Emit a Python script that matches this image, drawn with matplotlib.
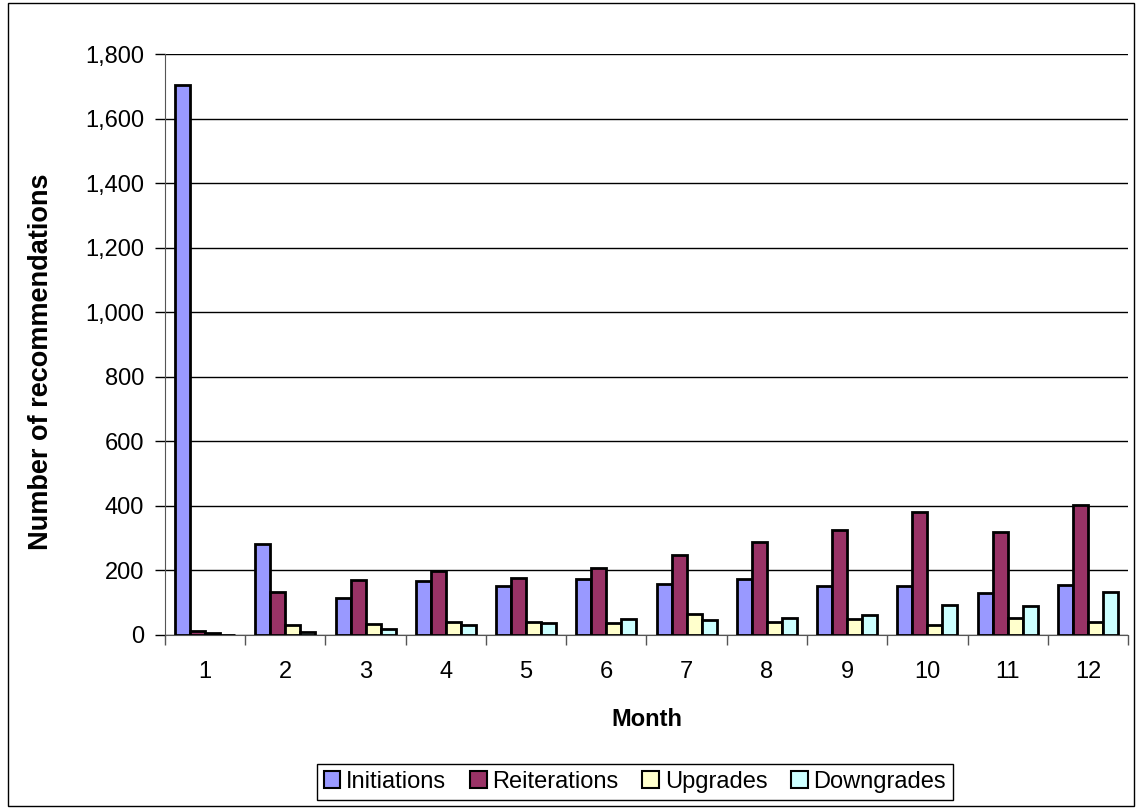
import matplotlib
matplotlib.use("Agg")
import matplotlib.pyplot as plt
import numpy as np
from matplotlib.patches import Rectangle
from matplotlib.ticker import FuncFormatter, FixedLocator

plt.rcParams["font.family"] = ["Liberation Sans", "DejaVu Sans"]

months = [1, 2, 3, 4, 5, 6, 7, 8, 9, 10, 11, 12]
initiations = [1705, 281, 114, 167, 152, 173, 158, 173, 152, 152, 129, 154]
reiterations = [12, 133, 170, 197, 177, 209, 249, 289, 325, 380, 318, 402]
upgrades = [5, 30, 33, 41, 41, 36, 65, 39, 49, 31, 52, 39]
downgrades = [1, 10, 19, 31, 38, 50, 47, 54, 62, 93, 89, 132]

series = [
    ("Initiations", initiations, "#9999FF"),
    ("Reiterations", reiterations, "#993366"),
    ("Upgrades", upgrades, "#FFFFCC"),
    ("Downgrades", downgrades, "#CCFFFF"),
]

fs = 17

fig = plt.figure(figsize=(11.37, 8.09), dpi=100)
ax = fig.add_axes([0.1451, 0.2151, 0.847, 0.7178])

x = np.arange(len(months))
w = 0.187
for i, (name, vals, col) in enumerate(series):
    ax.bar(x + (i - 1.5) * w, vals, width=w, color=col, edgecolor="black",
           linewidth=2, label=name, zorder=3)

ax.set_xlim(-0.5, len(months) - 0.5)
ax.set_ylim(0, 1800)
ax.set_yticks(np.arange(0, 1801, 200))
ax.yaxis.set_major_formatter(FuncFormatter(lambda v, p: f"{int(v):,}"))
ax.yaxis.grid(True, color="black", linewidth=1)
ax.set_axisbelow(True)

# category labels centred, tick marks between groups
ax.set_xticks(x)
ax.set_xticklabels([str(m) for m in months])
ax.tick_params(axis="x", which="major", length=0, pad=19, labelsize=fs)
ax.xaxis.set_minor_locator(FixedLocator(np.arange(-0.5, len(months), 1)))
ax.tick_params(axis="x", which="minor", length=7, direction="out", width=1, color="#555555")
ax.tick_params(axis="y", length=7, direction="out", width=1, labelsize=fs, pad=8)

for s in ["top", "right"]:
    ax.spines[s].set_visible(False)
ax.spines["left"].set_color("#555555")
ax.spines["bottom"].set_color("#555555")

ax.set_xlabel("Month", fontsize=fs, fontweight="bold", labelpad=18)
ax.set_ylabel("Number of recommendations", fontsize=19.5, fontweight="bold")
ax.yaxis.set_label_coords(-0.115, 0.47)

leg = fig.legend(loc="center", bbox_to_anchor=(0.5585, 0.0335), ncol=4, fontsize=fs,
                 frameon=True, fancybox=False, edgecolor="black", framealpha=1,
                 handlelength=0.7, handleheight=0.7, handletextpad=0.25,
                 columnspacing=1.0, borderpad=0.3)
leg.get_frame().set_linewidth(1)
for h in leg.legend_handles:
    h.set_linewidth(1.5)

fig.patches.append(Rectangle((0.007, 0.004), 0.99, 0.992, transform=fig.transFigure,
                             fill=False, edgecolor="black", linewidth=1))

fig.savefig("out.png", dpi=100)
